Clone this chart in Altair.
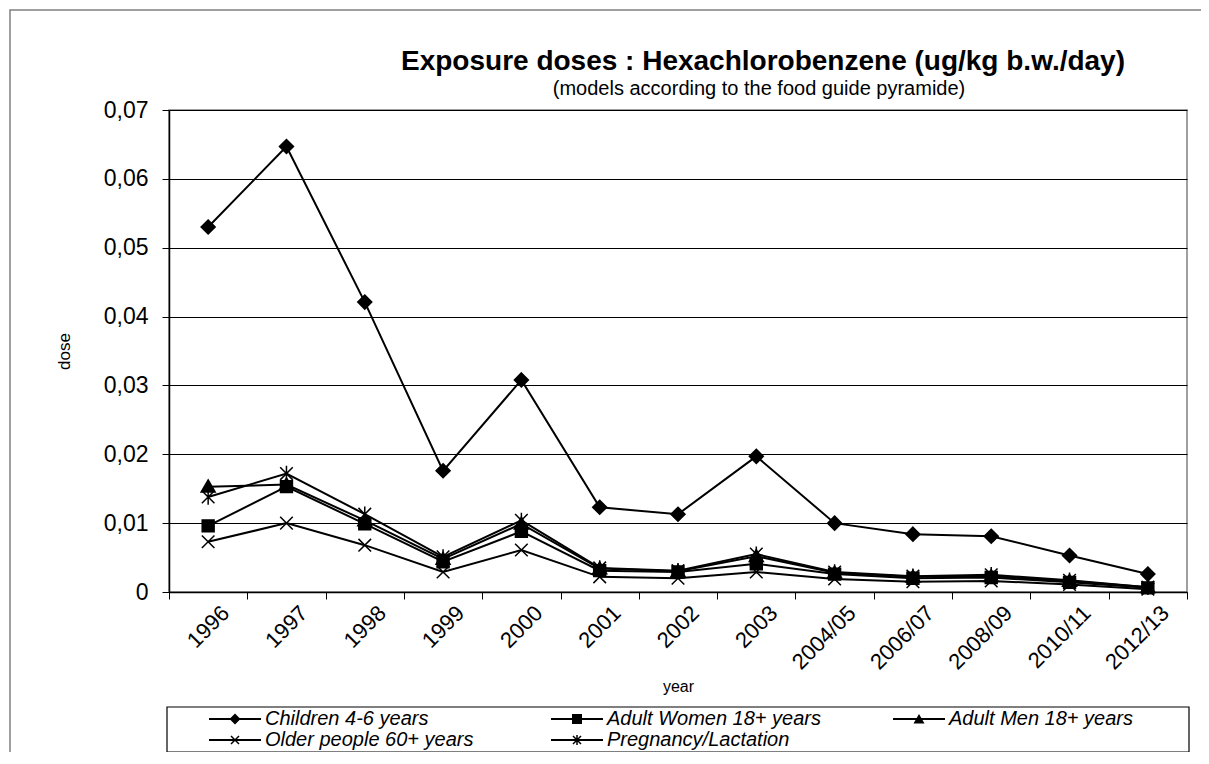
import altair as alt
import pandas as pd

years = ["1996", "1997", "1998", "1999", "2000", "2001", "2002", "2003",
         "2004/05", "2006/07", "2008/09", "2010/11", "2012/13"]
series_names = ["Children 4-6 years", "Adult Women 18+ years", "Adult Men 18+ years",
                "Older people 60+ years", "Pregnancy/Lactation"]
children = [0.0530, 0.0647, 0.0421, 0.0176, 0.0308, 0.0123, 0.0113, 0.0197, 0.0100, 0.0084, 0.0081, 0.0053, 0.0026]
women = [0.0096, 0.0153, 0.0099, 0.0044, 0.0088, 0.0031, 0.0029, 0.0041, 0.0026, 0.0020, 0.0021, 0.0014, 0.0006]
men = [0.0153, 0.0156, 0.0104, 0.0048, 0.0099, 0.0034, 0.0030, 0.0052, 0.0028, 0.0022, 0.0023, 0.0016, 0.0007]
older = [0.0073, 0.0100, 0.0068, 0.0029, 0.0061, 0.0022, 0.0020, 0.0029, 0.0019, 0.0015, 0.0016, 0.0011, 0.0004]
pregnancy = [0.0138, 0.0172, 0.0113, 0.0051, 0.0104, 0.0035, 0.0031, 0.0055, 0.0029, 0.0023, 0.0025, 0.0017, 0.0007]

title_text = "Exposure doses : Hexachlorobenzene (ug/kg b.w./day)"
subtitle_text = "(models according to the food guide pyramide)"

rows = []
for name, vals in zip(series_names, [children, women, men, older, pregnancy]):
    for yr, v in zip(years, vals):
        rows.append({"year": yr, "dose": v, "series": name})
df = pd.DataFrame(rows)
one = pd.DataFrame({"k": [0]})

FONT = "Liberation Sans"

plot_paths = [
    "M0,-1L1,0L0,1L-1,0Z",
    "M-0.85,-0.85L0.85,-0.85L0.85,0.85L-0.85,0.85Z",
    "M0,-0.95L1,0.75L-1,0.75Z",
    "M-0.9,-0.9L0.9,0.9M0.9,-0.9L-0.9,0.9",
    "M-0.9,-0.9L0.9,0.9M0.9,-0.9L-0.9,0.9M0,-1.1L0,1.1",
]
# legend symbols: all filled outlines (line segment + marker), same winding
LINE = "M-2.6,-0.1L2.6,-0.1L2.6,0.1L-2.6,0.1Z"
XBARS = ("M-0.347,-0.453L0.453,0.347L0.347,0.453L-0.453,-0.347Z"
         "M0.453,-0.347L-0.347,0.453L-0.453,0.347L0.347,-0.453Z")
legend_paths = [
    LINE + "M0,-0.55L0.55,0L0,0.55L-0.55,0Z",
    LINE + "M-0.5,-0.5L0.5,-0.5L0.5,0.5L-0.5,0.5Z",
    LINE + "M0,-0.5L0.55,0.45L-0.55,0.45Z",
    LINE + XBARS,
    LINE + XBARS + "M-0.075,-0.5L0.075,-0.5L0.075,0.5L-0.075,0.5Z",
]

x_enc = alt.X(
    "year:N", sort=years, title="year",
    scale=alt.Scale(type="band", paddingInner=0, paddingOuter=0),
    axis=alt.Axis(labelAngle=-45, labelAlign="right", labelBaseline="top",
                  labelOffset=10, labelPadding=3,
                  labelFont=FONT, labelFontSize=22, labelColor="black",
                  tickBand="extent", tickColor="black", tickSize=7,
                  domainColor="black", domainWidth=1.5, grid=False,
                  titleFont=FONT, titleFontSize=16, titleFontWeight="normal",
                  titleColor="black", titlePadding=5),
)
y_enc = alt.Y(
    "dose:Q", title="dose",
    scale=alt.Scale(domain=[0, 0.07], nice=False, zero=True),
    axis=alt.Axis(values=[0, 0.01, 0.02, 0.03, 0.04, 0.05, 0.06, 0.07],
                  labelExpr="datum.value == 0 ? '0' : replace(format(datum.value, '.2f'), '.', ',')",
                  labelFont=FONT, labelFontSize=23, labelColor="black", labelPadding=14,
                  tickColor="black", tickSize=7, domainColor="black", domainWidth=1.5,
                  grid=True, gridColor="black", gridWidth=1,
                  titleFont=FONT, titleFontSize=17, titleFontWeight="normal",
                  titleColor="black", titlePadding=30),
)

base = alt.Chart(df)

frame = alt.Chart(one).mark_rect(fill="transparent", stroke="#808080", strokeWidth=1.5).encode(
    x=alt.value(-159), x2=alt.value(1034), y=alt.value(-100), y2=alt.value(660))
legend_box = alt.Chart(one).mark_rect(fill="white", stroke="black", strokeWidth=1.2).encode(
    x=alt.value(-2), x2=alt.value(1020), y=alt.value(597), y2=alt.value(642))
title_mark = alt.Chart(one).mark_text(
    text=title_text, font=FONT, fontSize=28, fontWeight="bold", color="black",
    align="center", baseline="middle").encode(x=alt.value(594), y=alt.value(-48))
subtitle_mark = alt.Chart(one).mark_text(
    text=subtitle_text, font=FONT, fontSize=20, color="black",
    align="center", baseline="middle").encode(x=alt.value(590), y=alt.value(-21))

lines = base.mark_line(color="black", strokeWidth=2).encode(x=x_enc, y=y_enc, detail="series:N")
points = base.mark_point(filled=True, fill="black", stroke="black", strokeWidth=1.5,
                         opacity=1, size=196).encode(
    x=x_enc, y=y_enc,
    shape=alt.Shape("series:N", scale=alt.Scale(domain=series_names, range=plot_paths), legend=None))

legend_layer = base.transform_filter("datum.dose < 0").mark_point(
    filled=True, color="black", opacity=1, size=400).encode(
    x=x_enc, y=y_enc,
    shape=alt.Shape("series:N", scale=alt.Scale(domain=series_names, range=legend_paths),
                    legend=alt.Legend(orient="none", legendX=55, legendY=598, title=None,
                                      direction="horizontal",
                                      columns=3, columnPadding=69, rowPadding=0,
                                      gridAlign="all", padding=0,
                                      labelFont=FONT, labelFontStyle="italic",
                                      labelFontSize=20, labelColor="black",
                                      labelLimit=400, labelOffset=19,
                                      symbolSize=400,
                                      symbolFillColor="black",
                                      symbolOpacity=1)))

chart = alt.layer(frame, legend_box, title_mark, subtitle_mark, lines, points, legend_layer).resolve_scale(
    shape="independent"
).properties(
    width=1018, height=482,
    padding={"left": 161, "top": 102, "right": 14, "bottom": 160},
    autosize=alt.AutoSizeParams(type="none"),
).configure_view(stroke="#808080", strokeWidth=1.5)

chart.save("out.html", embed_options={"renderer": "svg", "actions": False})
